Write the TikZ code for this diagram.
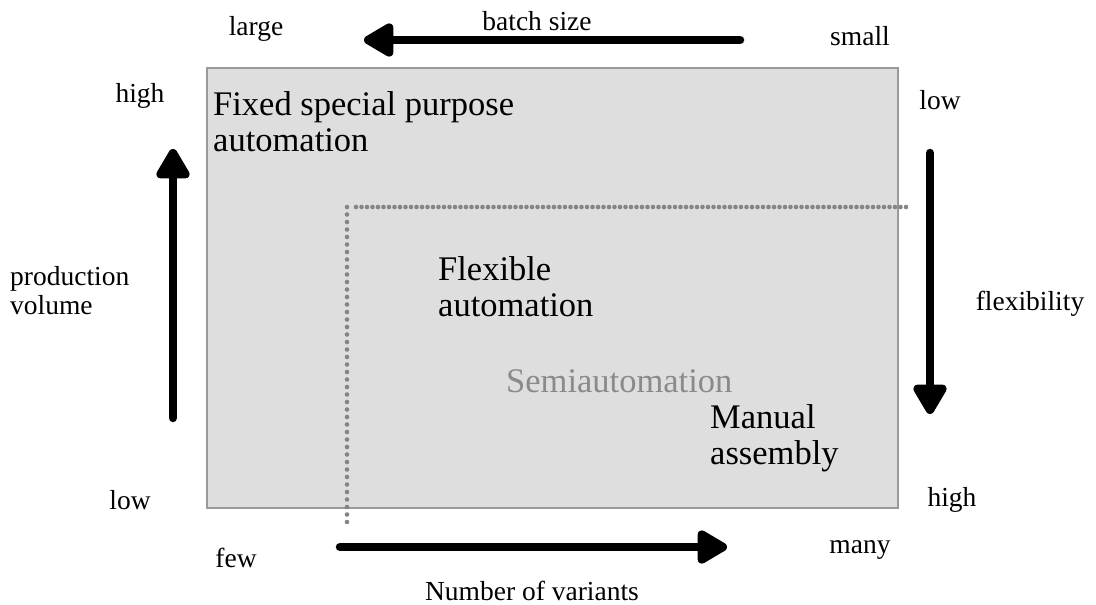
\documentclass[tikz,border=0pt]{standalone}
\usepackage{fontspec}
\setmainfont{Liberation Serif}
\usetikzlibrary{arrows.meta}
\definecolor{panelfill}{HTML}{DEDEDE}
\definecolor{panelline}{HTML}{9A9A9A}
\definecolor{divider}{HTML}{858585}
\definecolor{semitext}{HTML}{8A8A8A}
\tikzset{
  axislabel/.style={font=\fontsize{27.5}{29}\selectfont, inner sep=0pt, align=left},
  zonelabel/.style={font=\fontsize{34.5}{36}\selectfont, inner sep=0pt, align=left, anchor=base west},
  bigarrow/.style={line width=8.5pt, line cap=round, black,
    -{Triangle[length=34pt, width=37pt, round]}},
  divline/.style={divider, line width=4.6pt, line cap=round, dash pattern=on 0pt off 7.5pt}
}
\begin{document}
\begin{tikzpicture}[x=1pt, y=-1pt]
  \useasboundingbox (0,0) rectangle (1096,605);

  % shaded field of assembly options
  \draw[fill=panelfill, draw=panelline, line width=1.4pt] (207,68) rectangle (898,508);

  % boundary of the flexible region
  \coordinate (dv1) at (347,207);
  \coordinate (dv2) at (347,524);
  \coordinate (dh1) at (356,207);
  \coordinate (dh2) at (906,207);
  \draw[divline] (dv1) -- (dv2);
  \draw[divline, dash pattern=on 0pt off 5.5pt] (dh1) -- (dh2);

  % zone names (the anchor sits on the baseline of the last line)
  \node[zonelabel] (fixed) at (213,151) {Fixed special purpose\\automation};
  \node[zonelabel] (flex) at (438,316) {Flexible\\automation};
  \node[zonelabel, text=semitext] (semi) at (506,392) {Semiautomation};
  \node[zonelabel] (manual) at (710,464) {Manual\\assembly};

  % batch size axis (top)
  \node[axislabel] (large) at (256,29) {large};
  \node[axislabel] (batch) at (537,21) {batch size};
  \node[axislabel] (small) at (860,36) {small};
  \coordinate (bs1) at (740,40);
  \coordinate (bs2) at (364,40);
  \draw[bigarrow] (bs1) -- (bs2);

  % production volume axis (left)
  \node[axislabel] (pvhigh) at (140,96) {high};
  \node[axislabel] (pvlow) at (130,500) {low};
  \node[axislabel, anchor=west] (pv) at (10,291) {production\\volume};
  \coordinate (pv1) at (173,418);
  \coordinate (pv2) at (173,149);
  \draw[bigarrow] (pv1) -- (pv2);

  % flexibility axis (right)
  \node[axislabel] (flow) at (940,100) {low};
  \node[axislabel] (fhigh) at (952,500) {high};
  \node[axislabel] (flexy) at (1030,304) {flexibility};
  \coordinate (fx1) at (930,153);
  \coordinate (fx2) at (930,414);
  \draw[bigarrow] (fx1) -- (fx2);

  % number of variants axis (bottom)
  \node[axislabel] (few) at (236,558) {few};
  \node[axislabel] (many) at (860,550) {many};
  \node[axislabel] (variants) at (532,591) {Number of variants};
  \coordinate (nv1) at (340,547);
  \coordinate (nv2) at (727,547);
  \draw[bigarrow] (nv1) -- (nv2);
\end{tikzpicture}
\end{document}
